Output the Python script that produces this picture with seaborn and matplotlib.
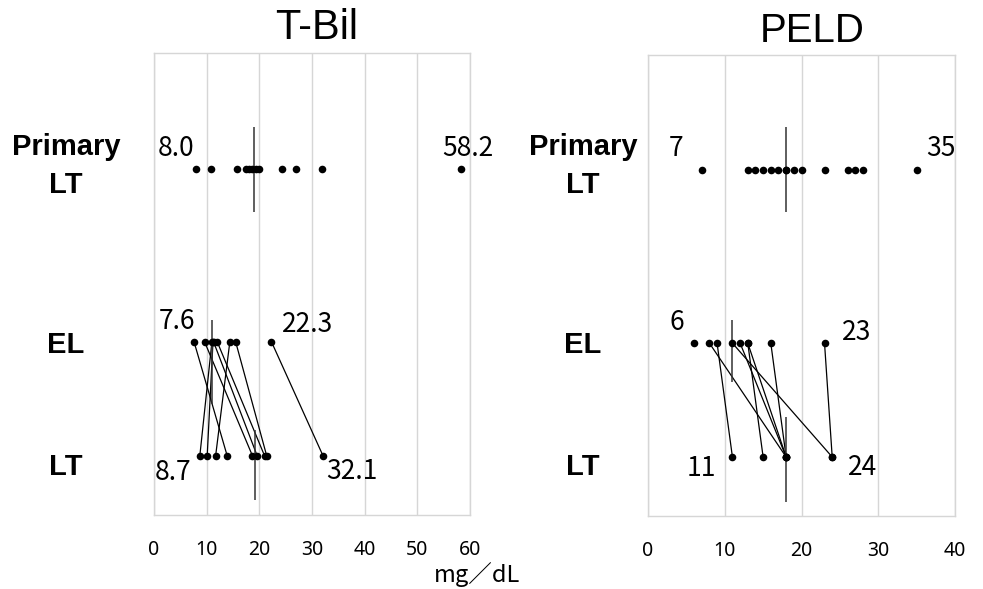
import numpy as np
import matplotlib.pyplot as plt
import pandas as pd
import seaborn as sns

sns.set_style("white")
plt.rcParams['font.family'] = ['Liberation Sans', 'DejaVu Sans']
plt.rcParams['text.color'] = 'black'
plt.rcParams['xtick.color'] = 'black'

# T-Bil values (mg/dL)
tbil_primary = [8.0, 10.9, 15.7, 17.4, 18.0, 18.7, 19.3, 19.9, 24.3, 27.0, 31.9, 58.2]
tbil_el = [7.6, 9.6, 11.0, 11.2, 11.3, 12.0, 14.4, 15.5, 22.3]
tbil_lt = [13.9, 18.7, 8.7, 10.1, 19.6, 21.0, 11.7, 21.4, 32.1]
tbil_medians = [19.0, 11.0, 19.2]   # Primary LT, EL, LT

# PELD values
peld_primary = [7, 13, 14, 15, 16, 17, 18, 18, 19, 20, 23, 26, 27, 28, 35]
peld_el = [6, 8, 9, 11, 12, 13, 13, 16, 23]
peld_lt = [np.nan, 18, 11, 24, 18, 15, 18, 18, 24]
peld_medians = [18.0, 11.0, 18.0]

row_names = ['Primary\nLT', 'EL', 'LT']
row_y = [0.25, 0.625, 0.872]  # positions inside the axes (inverted)

W, H = 983, 589
fig = plt.figure(figsize=(W / 100, H / 100), dpi=100)


def px_rect(left, top, right, bottom):
    return [left / W, 1 - bottom / H, (right - left) / W, (bottom - top) / H]


def draw_panel(ax, primary, el, lt, medians, xmax, ticks, fmt,
               med_spans, label_offsets):
    grid_col = '#d6d6d6'
    # paired EL -> LT lines
    pairs = pd.DataFrame({'patient': np.repeat(np.arange(len(el)), 2),
                          'value': np.ravel(np.column_stack([el, lt])),
                          'y': np.tile([row_y[1], row_y[2]], len(el))}).dropna()
    sns.lineplot(data=pairs, x='value', y='y', units='patient', estimator=None,
                 sort=False, color='black', lw=0.9, legend=False, ax=ax)

    rows = [primary, el, [v for v in lt if not np.isnan(v)]]
    for vals, y in zip(rows, row_y):
        sns.scatterplot(x=vals, y=[y] * len(vals), s=30, color='black',
                        linewidth=0, ax=ax, zorder=3)

    # median markers
    for m, (y0, y1) in zip(medians, med_spans):
        ax.vlines(m, y0, y1, color='#333333', lw=1.1, zorder=2)

    # min / max value labels
    for (vals, y), offs in zip(zip(rows, row_y), label_offsets):
        for v, (dx, dy, ha) in zip([min(vals), max(vals)], offs):
            ax.annotate(fmt.format(v), (v, y), xytext=(dx, dy),
                        textcoords='offset pixels', ha=ha, va='center',
                        fontsize=19, family=['Noto Sans CJK JP', 'DejaVu Sans'],
                        annotation_clip=False, zorder=4)

    ax.set_xlim(0, xmax)
    ax.set_ylim(1, 0)
    ax.set_xticks(ticks)
    ax.set_xticklabels([str(t) for t in ticks], fontsize=14,
                       family=['Noto Sans', 'DejaVu Sans'])
    ax.set_yticks([])
    ax.tick_params(axis='x', length=0, pad=18)
    ax.grid(axis='x', color=grid_col, lw=1)
    for sp in ax.spines.values():
        sp.set_color(grid_col)
        sp.set_linewidth(1)
    ax.set_xlabel('')
    ax.set_ylabel('')


ax1 = fig.add_axes(px_rect(154, 53, 470, 515))
draw_panel(ax1, tbil_primary, tbil_el, tbil_lt, tbil_medians, 60,
           [0, 10, 20, 30, 40, 50, 60], '{:.1f}',
           [(0.16, 0.344), (0.578, 0.76), (0.816, 0.968)],
           [[(-2, 20, 'right'), (-18, 20, 'left')],
            [(1, 20, 'right'), (11, 17, 'left')],
            [(-8, -17, 'right'), (3, -16, 'left')]])

ax2 = fig.add_axes(px_rect(648, 55, 955, 516))
draw_panel(ax2, peld_primary, peld_el, peld_lt, peld_medians, 40,
           [0, 10, 20, 30, 40], '{:.0f}',
           [(0.156, 0.34), (0.575, 0.709), (0.785, 0.97)],
           [[(-18, 22, 'right'), (10, 22, 'left')],
            [(-10, 21, 'right'), (17, 11, 'left')],
            [(-16, -12, 'right'), (16, -11, 'left')]])

# titles
fig.text(317 / W, 1 - 28 / H, 'T-Bil', ha='center', va='center', fontsize=30)
fig.text(812 / W, 1 - 31 / H, 'PELD', ha='center', va='center', fontsize=29)

# row labels
label_x = [66, 583]
label_y = [166, 345, 467]
for lx in label_x:
    for name, ly in zip(row_names, label_y):
        fig.text(lx / W, 1 - ly / H, name, ha='center', va='center',
                 fontsize=21, fontweight='bold', linespacing=1.45)

# unit label
fig.text(477 / W, 1 - 575 / H, 'mg／dL', ha='center', va='center', fontsize=17,
         family=['Noto Sans CJK JP', 'DejaVu Sans'])

fig.savefig('out.png', dpi=100)
